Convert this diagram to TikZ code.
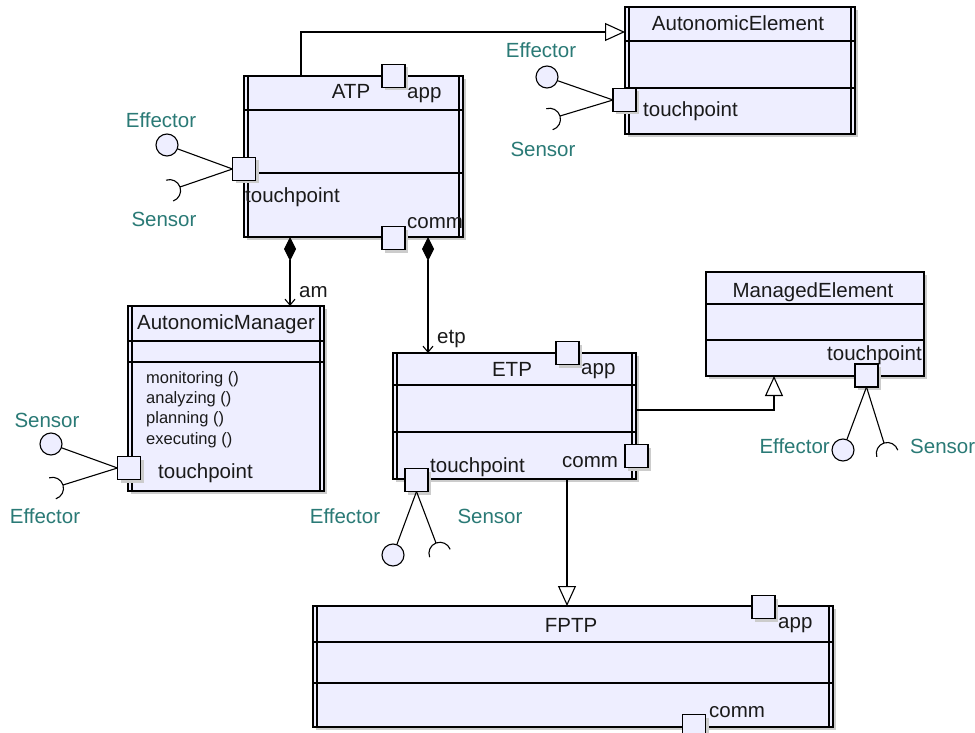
\documentclass[tikz,border=0pt]{standalone}
\usepackage{fontspec}
\setmainfont{Liberation Sans}
\usetikzlibrary{
arrows.meta,
positioning,
shadows
}
\definecolor{UMLfill}{HTML}{EEEEFF}
\definecolor{UMLteal}{HTML}{2A7A76}
\definecolor{UMLtext}{HTML}{1A1A1A}

\begin{document}
\begin{tikzpicture}[
    x=1pt,
    y=-1pt,
    font=\fontsize{20.5}{24}\selectfont,
    box/.style={draw, fill=UMLfill, line width=1.2pt, inner sep=0pt, outer sep=0pt,
        drop shadow={shadow xshift=3pt, shadow yshift=-3pt, fill=gray!40, opacity=1}},
    port/.style={box, minimum size=23pt},
    ball/.style={draw, fill=UMLfill, circle, line width=1.1pt, minimum size=22pt, inner sep=0pt},
    rule/.style={line width=1.2pt},
    txt/.style={inner sep=0pt, text=UMLtext},
    iface/.style={inner sep=0pt, text=UMLteal},
    ops/.style={inner sep=0pt, text=UMLtext, font=\fontsize{16.5}{19}\selectfont},
    wire/.style={line width=1.1pt},
    gen/.style={wire, -{Triangle[open, length=20pt, width=18pt]}},
    comp/.style={wire, {Diamond[length=24pt, width=12pt]}-{Straight Barb[length=6pt, width=10pt]}}
]

% Canvas
\fill[white] (0,0) rectangle (975,733);
\useasboundingbox (0,0) rectangle (975,733);

% =========================
% ATP
% =========================
\node[box, minimum width=219pt, minimum height=161pt] (atp) at (353.5,156.5) {};
\draw[rule] ([xshift=4pt]atp.north west) -- ([xshift=4pt]atp.south west);
\draw[rule] ([xshift=-4pt]atp.north east) -- ([xshift=-4pt]atp.south east);
\draw[rule] ([yshift=-34pt]atp.north west) -- ([yshift=-34pt]atp.north east);
\draw[rule] ([yshift=-97pt]atp.north west) -- ([yshift=-97pt]atp.north east);

\node[txt, anchor=base] (atpname) at (351,99) {ATP};
\node[txt, anchor=base west] (atpapplbl) at (407,99) {app};
\node[txt, anchor=base west] (atptplbl) at (245,203) {touchpoint};
\node[txt, anchor=base west] (atpcommlbl) at (407,229) {comm};

\node[port] (atpapp) at (393.5,76) {};
\node[port] (atpcomm) at (393.5,238) {};
\node[port] (atptp) at (244,169) {};

% touchpoint interfaces
\node[ball] (atpeff) at (167,145) {};
\coordinate (atpsen) at (180,187);
\draw[wire] (atptp.west) -- (atpeff);
\draw[wire] (atptp.west) -- (atpsen)
    arc[start angle=340.9, end angle=430.9, radius=11]
    (atpsen) arc[start angle=340.9, end angle=250.9, radius=11];
\node[iface, anchor=base] (atpefflbl) at (161,128) {Effector};
\node[iface, anchor=base] (atpsenlbl) at (164,226) {Sensor};

% =========================
% AUTONOMIC ELEMENT
% =========================
\node[box, minimum width=230pt, minimum height=127pt] (ae) at (740,70.5) {};
\draw[rule] ([xshift=4pt]ae.north west) -- ([xshift=4pt]ae.south west);
\draw[rule] ([xshift=-4pt]ae.north east) -- ([xshift=-4pt]ae.south east);
\draw[rule] ([yshift=-34pt]ae.north west) -- ([yshift=-34pt]ae.north east);
\draw[rule] ([yshift=-81pt]ae.north west) -- ([yshift=-81pt]ae.north east);

\node[txt, anchor=base] (aename) at (738,31) {AutonomicElement};
\node[txt, anchor=base west] (aetplbl) at (643,117) {touchpoint};
\node[port] (aetp) at (624.5,100) {};

\node[ball] (aeeff) at (547,77) {};
\coordinate (aesen) at (560,116);
\draw[wire] (aetp.west) -- (aeeff);
\draw[wire] (aetp.west) -- (aesen)
    arc[start angle=342.9, end angle=432.9, radius=11]
    (aesen) arc[start angle=342.9, end angle=252.9, radius=11];
\node[iface, anchor=base] (aeefflbl) at (541,58) {Effector};
\node[iface, anchor=base] (aesenlbl) at (543,157) {Sensor};

% =========================
% AUTONOMIC MANAGER
% =========================
\node[box, minimum width=196pt, minimum height=185pt] (am) at (226,398.5) {};
\draw[rule] ([xshift=4pt]am.north west) -- ([xshift=4pt]am.south west);
\draw[rule] ([xshift=-4pt]am.north east) -- ([xshift=-4pt]am.south east);
\draw[rule] ([yshift=-35pt]am.north west) -- ([yshift=-35pt]am.north east);
\draw[rule] ([yshift=-56pt]am.north west) -- ([yshift=-56pt]am.north east);

\node[txt, anchor=base] (amname) at (226,329) {AutonomicManager};
\node[ops, anchor=base west] (amop1) at (146,383) {monitoring ()};
\node[ops, anchor=base west] (amop2) at (146,403) {analyzing ()};
\node[ops, anchor=base west] (amop3) at (146,423) {planning ()};
\node[ops, anchor=base west] (amop4) at (146,444) {executing ()};
\node[txt, anchor=base west] (amtplbl) at (158,478) {touchpoint};
\node[port] (amtp) at (129,468) {};

\node[ball] (amsen) at (51,444) {};
\coordinate (ameff) at (63,485);
\draw[wire] (amtp.west) -- (amsen);
\draw[wire] (amtp.west) -- (ameff)
    arc[start angle=342.5, end angle=432.5, radius=11]
    (ameff) arc[start angle=342.5, end angle=252.5, radius=11];
\node[iface, anchor=base] (amsenlbl) at (47,427) {Sensor};
\node[iface, anchor=base] (amefflbl) at (45,523) {Effector};

% =========================
% ETP
% =========================
\node[box, minimum width=243pt, minimum height=126pt] (etp) at (514.5,416) {};
\draw[rule] ([xshift=4pt]etp.north west) -- ([xshift=4pt]etp.south west);
\draw[rule] ([xshift=-4pt]etp.north east) -- ([xshift=-4pt]etp.south east);
\draw[rule] ([yshift=-32pt]etp.north west) -- ([yshift=-32pt]etp.north east);
\draw[rule] ([yshift=-79pt]etp.north west) -- ([yshift=-79pt]etp.north east);

\node[txt, anchor=base] (etpname) at (512,376) {ETP};
\node[txt, anchor=base west] (etpapplbl) at (581,374) {app};
\node[txt, anchor=base west] (etptplbl) at (430,472) {touchpoint};
\node[txt, anchor=base west] (etpcommlbl) at (562,467) {comm};

\node[port] (etpapp) at (567.5,353) {};
\node[port] (etpcomm) at (636.5,456) {};
\node[port] (etptp) at (416.5,480) {};

\node[ball] (etpeff) at (393,555) {};
\coordinate (etpsen) at (436,543);
\draw[wire] (etptp.south) -- (etpeff);
\draw[wire] (etptp.south) -- (etpsen)
    arc[start angle=249.1, end angle=339.1, radius=11]
    (etpsen) arc[start angle=249.1, end angle=159.1, radius=11];
\node[iface, anchor=base] (etpefflbl) at (345,523) {Effector};
\node[iface, anchor=base] (etpsenlbl) at (490,523) {Sensor};

% =========================
% MANAGED ELEMENT
% =========================
\node[box, minimum width=218pt, minimum height=104pt] (me) at (815,324) {};
\draw[rule] ([yshift=-32pt]me.north west) -- ([yshift=-32pt]me.north east);
\draw[rule] ([yshift=-68pt]me.north west) -- ([yshift=-68pt]me.north east);

\node[txt, anchor=base] (mename) at (813,297) {ManagedElement};
\node[txt, anchor=base east] (metplbl) at (922,360) {touchpoint};
\node[port] (metp) at (866.5,375.5) {};

\node[ball] (meeff) at (843,450) {};
\coordinate (mesen) at (884,443);
\draw[wire] (metp.south) -- (meeff);
\draw[wire] (metp.south) -- (mesen)
    arc[start angle=252.5, end angle=342.5, radius=11]
    (mesen) arc[start angle=252.5, end angle=162.5, radius=11];
\node[iface, anchor=base east] (meefflbl) at (830,453) {Effector};
\node[iface, anchor=base west] (mesenlbl) at (910,453) {Sensor};

% =========================
% FPTP
% =========================
\node[box, minimum width=520pt, minimum height=121pt] (fptp) at (573,666.5) {};
\draw[rule] ([xshift=4pt]fptp.north west) -- ([xshift=4pt]fptp.south west);
\draw[rule] ([xshift=-4pt]fptp.north east) -- ([xshift=-4pt]fptp.south east);
\draw[rule] ([yshift=-36pt]fptp.north west) -- ([yshift=-36pt]fptp.north east);
\draw[rule] ([yshift=-77pt]fptp.north west) -- ([yshift=-77pt]fptp.north east);

\node[txt, anchor=base] (fptpname) at (571,632) {FPTP};
\node[txt, anchor=base west] (fptpapplbl) at (778,628) {app};
\node[txt, anchor=base west] (fptpcommlbl) at (709,717) {comm};

\node[port] (fptpapp) at (763.5,607) {};
\node[port] (fptpcomm) at (694,726) {};

% =========================
% RELATIONS
% =========================
% ATP specialises AutonomicElement
\coordinate (aelink) at ([xshift=57pt]atp.north west);
\draw[gen] (aelink) |- ([yshift=-25pt]ae.north west);

% ATP owns am and etp
\coordinate (amlink) at ([xshift=46pt]atp.south west);
\draw[comp] (amlink) -- (amlink |- am.north);
\node[txt, anchor=base west] (amrole) at (299,297) {am};

\coordinate (etplink) at ([xshift=184pt]atp.south west);
\draw[comp] (etplink) -- (etplink |- etp.north);
\node[txt, anchor=base west] (etprole) at (437,343) {etp};

% ETP specialises ManagedElement
\coordinate (melink) at ([xshift=68pt]me.south west);
\draw[gen] ([yshift=-57pt]etp.north east) -| (melink);

% FPTP specialises ETP
\coordinate (fptplink) at ([xshift=174pt]etp.south west);
\draw[gen] (fptplink) -- (fptplink |- fptp.north);

\end{tikzpicture}
\end{document}
